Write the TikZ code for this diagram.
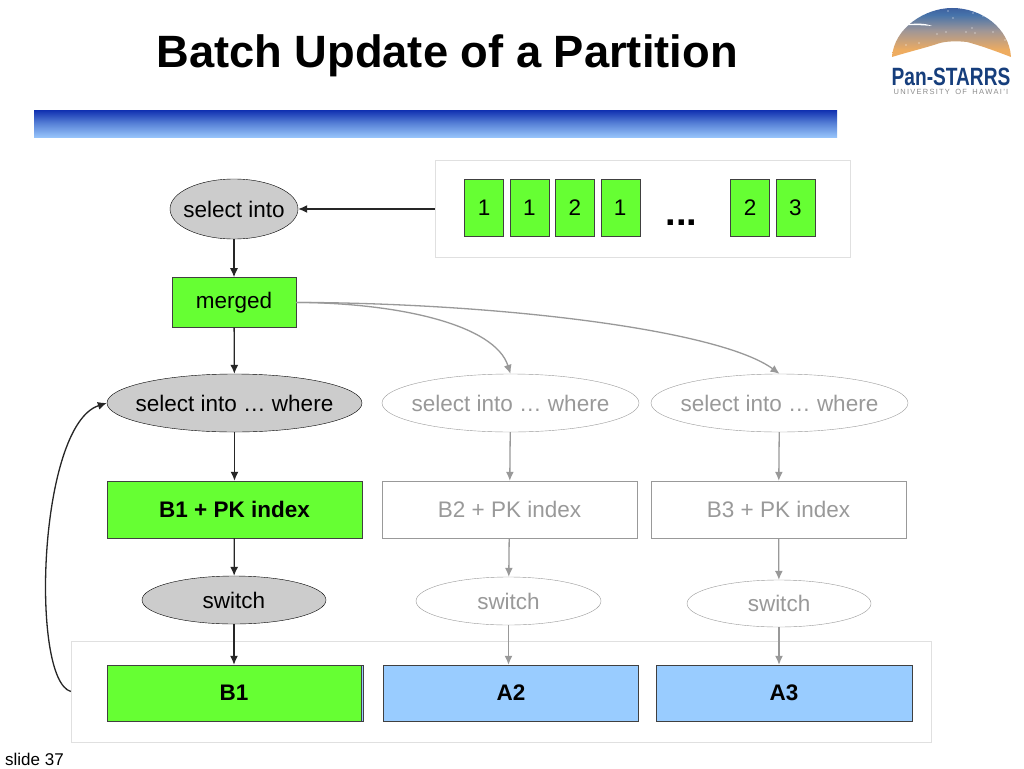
\documentclass[tikz,border=0pt]{standalone}
\usepackage{fontspec}
\setmainfont{Liberation Sans}
\usetikzlibrary{positioning,shapes.geometric,arrows.meta}
\definecolor{lime}{RGB}{102,255,51}
\definecolor{sky}{RGB}{153,204,255}
\definecolor{ghost}{RGB}{153,153,153}
\definecolor{pale}{RGB}{224,224,224}
\definecolor{navy}{RGB}{22,62,124}
\definecolor{bandA}{RGB}{16,48,176}
\definecolor{bandB}{RGB}{88,130,215}
\definecolor{bandC}{RGB}{150,195,250}
\definecolor{domeA}{RGB}{238,172,96}
\definecolor{domeB}{RGB}{160,150,150}
\definecolor{domeC}{RGB}{70,115,170}
\definecolor{domeD}{RGB}{30,30,125}
\pgfdeclareverticalshading{dome}{100bp}{
  color(0bp)=(domeA); color(32bp)=(domeA);
  color(52bp)=(domeB); color(68bp)=(domeC);
  color(100bp)=(domeD)}
\newcommand{\ovaltext}[1]{\makebox[0pt]{#1}}
\begin{document}
\begin{tikzpicture}[x=1pt,y=-1pt]
      \tikzstyle{txt}=[font=\fontsize{22.5}{27}\selectfont]
      \tikzstyle{oval}=[ellipse, txt, draw=black, fill=black!20, inner sep=0pt]
      \tikzstyle{ghostoval}=[ellipse, txt, draw=ghost, text=ghost, fill=white, inner sep=0pt]
      \tikzstyle{block}=[rectangle, txt, draw=black!75, fill=lime, inner sep=0pt]
      \tikzstyle{ghostblock}=[rectangle, txt, draw=ghost, text=ghost, fill=white, inner sep=0pt]
      \tikzstyle{store}=[rectangle, txt, font=\fontsize{22.5}{27}\selectfont\bfseries, draw=black!75, fill=sky, inner sep=0pt, minimum height=56pt]
      \tikzstyle{cell}=[block, minimum width=39pt, minimum height=57pt]
      \tikzstyle{tray}=[rectangle, draw=pale, fill=white, inner sep=0pt]
      \tikzstyle{connect}=[-{Latex[length=9pt,width=8pt]}, line width=1.3pt, black!85]
      \tikzstyle{ghostconnect}=[-{Latex[length=9pt,width=8pt]}, line width=1.3pt, ghost]

      \useasboundingbox (0,0) rectangle (1024,768);
      \fill[white] (0,0) rectangle (1024,768);

      % heading
      \node[font=\fontsize{45.3}{54}\selectfont\bfseries] (title) at (447,56) {Batch Update of a Partition};
      \shade[top color=bandA, bottom color=bandC, middle color=bandB] (34,110) rectangle (837,137);
      \node[font=\fontsize{17}{20}\selectfont, anchor=west, inner sep=0pt] (slide) at (5,759) {slide 37};

      % logo
      \shade[shading=dome] (892,57) .. controls (894,28) and (925,8) .. (952,8)
        .. controls (982,8) and (1009,28) .. (1011,57)
        .. controls (998,52) and (982,46) .. (967,42)
        .. controls (958,41) and (948,41) .. (940,43)
        .. controls (925,48) and (908,52) .. (892,57) -- cycle;
      \fill[white] (903,25) .. controls (915,23) and (925,23) .. (932,26) .. controls (922,25) and (912,25) .. (903,25) -- cycle;
      \fill[white] (948,11) circle (.6) (953,18) circle (.7) (973,13) circle (.6) (983,16) circle (.6)
        (937,34) circle (.7) (946,32) circle (.6) (966,32) circle (.6) (972,28) circle (.7)
        (975,33) circle (.6) (993,32) circle (.6) (906,45) circle (.7) (919,43) circle (.6) (1005,40) circle (.6);
      \node[font=\fontsize{25}{30}\selectfont\bfseries, text=navy, inner sep=0pt, xscale=.765] (brand) at (951,76.5) {Pan-STARRS};
      \node[font=\fontsize{7.5}{9}\selectfont, text=black!45, inner sep=0pt] (univ) at (951,92) {U\,N\,I\,V\,E\,R\,S\,I\,T\,Y\; \,O\,F\; \,H\,A\,W\,A\,I\,'\,I};

      % containers
      \node[tray, minimum width=415.5pt, minimum height=97.5pt] (source) at (642.7,208.8) {};
      \node[tray, minimum width=860.5pt, minimum height=101pt] (target) at (501.3,691.5) {};

      % incoming buckets
      \node[cell] (c1) at (484,207.5) {1};
      \node[cell] (c2) [right=6pt of c1] {1};
      \node[cell] (c3) [right=6pt of c2] {2};
      \node[cell] (c4) [right=6pt of c3] {1};
      \node[font=\fontsize{38}{46}\selectfont\bfseries, inner sep=0pt] (dots) at (681.5,223) {...};
      \node[cell] (c5) at (750,207.5) {2};
      \node[cell] (c6) [right=6pt of c5] {3};

      % first column
      \node[oval, minimum width=128pt, minimum height=60pt] (into) at (234,209) {\ovaltext{select into}};
      \node[block, minimum width=124pt, minimum height=50pt] (merged) [below=38pt of into] {merged};
      \node[oval, minimum width=255pt, minimum height=58pt] (whereA) at (234.5,403) {\ovaltext{select into … where}};
      \node[block, font=\fontsize{22.5}{27}\selectfont\bfseries, minimum width=255pt, minimum height=57pt] (idxA) at (234.5,509.5) {B1 + PK index};
      \node[oval, minimum width=184pt, minimum height=48pt] (swA) at (234,600) {\ovaltext{switch}};
      \draw[draw=black!75, fill=sky] (109,665) rectangle (363.5,721);
      \node[store, fill=lime, minimum width=254pt] (B1) at (234,693) {B1};

      % second column
      \node[ghostoval, minimum width=257pt, minimum height=58pt] (whereB) at (510.5,403) {\ovaltext{select into … where}};
      \node[ghostblock, minimum width=255pt, minimum height=57pt] (idxB) at (509.5,509.5) {B2 + PK index};
      \node[ghostoval, minimum width=185pt, minimum height=48pt] (swB) at (508.5,601) {\ovaltext{switch}};
      \node[store, minimum width=255pt] (A2) at (511,693) {A2};

      % third column
      \node[ghostoval, minimum width=257pt, minimum height=58pt] (whereC) at (779.5,403) {\ovaltext{select into … where}};
      \node[ghostblock, minimum width=255pt, minimum height=57pt] (idxC) at (778.5,509.5) {B3 + PK index};
      \node[ghostoval, minimum width=184pt, minimum height=47pt] (swC) at (779,603.5) {\ovaltext{switch}};
      \node[store, minimum width=256pt] (A3) at (784,693) {A3};

      \path (source.west |- into) edge [connect] (into);
      \path (into) edge [connect] (merged);
      \path (merged) edge [connect] (whereA);
      \path (whereA) edge [connect] (idxA);
      \path (idxA) edge [connect] (swA);
      \path (swA) edge [connect] (B1);
      \draw[connect] (target.west) .. controls (30,680) and (38,425) .. (whereA.west);

      \draw[ghostconnect] (merged.east) .. controls (400,303) and (495,325) .. (whereB.north);
      \draw[ghostconnect] (merged.east) .. controls (500,303) and (720,330) .. (whereC.north);
      \path (whereB) edge [ghostconnect] (idxB);
      \path (whereC) edge [ghostconnect] (idxC);
      \path (idxB) edge [ghostconnect] (swB);
      \path (idxC) edge [ghostconnect] (swC);
      \path (swB) edge [ghostconnect] (swB |- A2.north);
      \path (swC) edge [ghostconnect] (swC |- A3.north);
    \end{tikzpicture}
\end{document}
